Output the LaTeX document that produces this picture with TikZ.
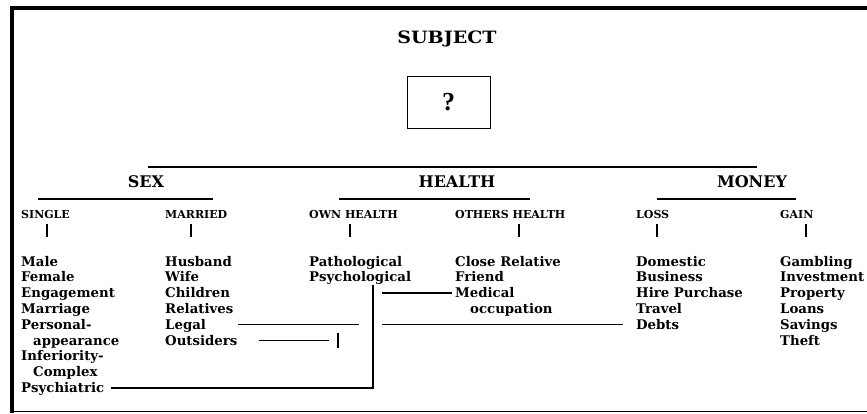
\documentclass[tikz,border=0pt]{standalone}
\usepackage{fontspec}
\setmainfont{DejaVu Serif}
\newfontfamily\qfont{Liberation Serif}
\newfontfamily\subjfont[FakeStretch=1.12]{DejaVu Serif}
\begin{document}
\begin{tikzpicture}[x=1pt,y=-1pt,
  item/.style={anchor=base west, inner sep=0pt, font=\fontsize{13.3}{15}\selectfont\bfseries},
  sublab/.style={anchor=base west, inner sep=0pt, font=\fontsize{11}{13}\selectfont\bfseries},
  head/.style={anchor=base, inner sep=0pt, font=\fontsize{16}{18}\selectfont\bfseries},
  rulel/.style={line width=1.6pt},
  tick/.style={line width=1.6pt},
  conn/.style={line width=1.3pt},
  thinl/.style={line width=0.8pt}]
\useasboundingbox (0,0) rectangle (867,413);
% frame
\draw[line width=3.5pt] (867,8) -- (12,8) -- (12,413);
\draw[thinl] (12,411) -- (867,411);
% top
\node[head, font=\subjfont\fontsize{17}{19}\selectfont\bfseries] (subj) at (447,43) {SUBJECT};
\node[draw, line width=0.8pt, minimum width=83pt, minimum height=52pt, inner sep=0pt,
      font=\qfont\fontsize{26}{28}\selectfont\bfseries] (q) at (448.5,102) {?};
\draw[rulel] (148,167) -- (757,167);
% headings
\node[head] (sex) at (146,187) {SEX};
\node[head] (health) at (457,187) {HEALTH};
\node[head] (money) at (752,187) {MONEY};
\draw[rulel] (38,199) -- (213,199);
\draw[rulel] (339,199) -- (530,199);
\draw[rulel] (657,199) -- (796,199);
% sub labels
\node[sublab] (single) at (21,218) {SINGLE};
\node[sublab] (married) at (165,218) {MARRIED};
\node[sublab] (own) at (309,218) {OWN HEALTH};
\node[sublab] (others) at (455,218) {OTHERS HEALTH};
\node[sublab] (loss) at (636,218) {LOSS};
\node[sublab] (gain) at (780,218) {GAIN};
\draw[tick] (47,224) -- (47,237);
\draw[tick] (191,224) -- (191,237);
\draw[tick] (350,224) -- (350,237);
\draw[tick] (519,224) -- (519,237);
\draw[tick] (657,224) -- (657,237);
\draw[tick] (806,224) -- (806,237);
% lists
\def\rowy#1{266+15.8*(#1-1)}
\foreach \t [count=\i] in {Male,Female,Engagement,Marriage,Personal-,\hspace{12pt}appearance,Inferiority-,\hspace{12pt}Complex,Psychiatric}
  \node[item] (s\i) at (21,{\rowy{\i}}) {\t};
\foreach \t [count=\i] in {Husband,Wife,Children,Relatives,Legal,Outsiders}
  \node[item] (m\i) at (165,{\rowy{\i}}) {\t};
\foreach \t [count=\i] in {Pathological,Psychological}
  \node[item] (w\i) at (309,{\rowy{\i}}) {\t};
\foreach \t [count=\i] in {Close Relative,Friend,Medical,\hspace{15pt}occupation}
  \node[item] (o\i) at (455,{\rowy{\i}}) {\t};
\foreach \t [count=\i] in {Domestic,Business,Hire Purchase,Travel,Debts}
  \node[item] (l\i) at (636,{\rowy{\i}}) {\t};
\foreach \t [count=\i] in {Gambling,Investment,Property,Loans,Savings,Theft}
  \node[item] (g\i) at (780,{\rowy{\i}}) {\t};
% connectors
\coordinate (vtop) at (373,285);
\draw[conn] ([xshift=7pt,yshift=4.5pt]s9.base east) -| (vtop);
\draw[conn] ([xshift=32pt,yshift=4.5pt]m5.base east) -- ++(121,0);
\draw[conn] ([xshift=-13pt,yshift=4.5pt]l5.base west) -- ++(-241,0);
\draw[conn] ([xshift=21pt,yshift=4.5pt]m6.base east) -- ++(70,0);
\coordinate (otick) at (338,333);
\draw[tick] (otick) -- ++(0,15);
\draw[conn] ([xshift=-3pt,yshift=4.5pt]o3.base west) -- ++(-70,0);
\end{tikzpicture}
\end{document}
